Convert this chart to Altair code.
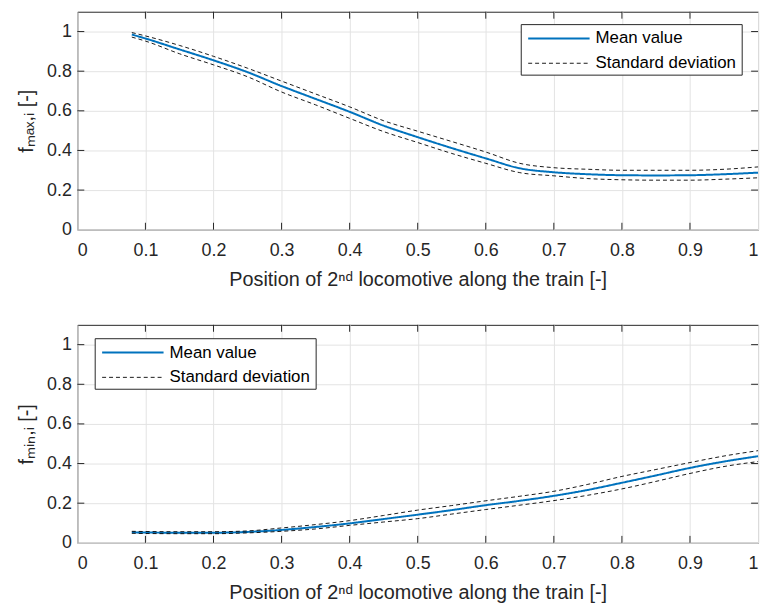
import altair as alt
import pandas as pd

# ---------------- data ----------------
pos = [0.08, 0.10, 0.15, 0.20, 0.25, 0.30, 0.35, 0.40, 0.45, 0.50,
       0.55, 0.60, 0.65, 0.70, 0.75, 0.80, 0.85, 0.90, 0.95, 1.00]

fmax_mean = [0.985, 0.965, 0.910, 0.855, 0.795, 0.725, 0.660, 0.595, 0.525, 0.467,
             0.412, 0.360, 0.310, 0.290, 0.280, 0.275, 0.274, 0.275, 0.280, 0.288]
fmax_up = [0.995, 0.978, 0.930, 0.875, 0.815, 0.750, 0.685, 0.620, 0.550, 0.497,
           0.445, 0.392, 0.335, 0.313, 0.305, 0.300, 0.300, 0.300, 0.305, 0.317]
fmax_lo = [0.972, 0.952, 0.888, 0.832, 0.772, 0.695, 0.630, 0.562, 0.495, 0.440,
           0.385, 0.335, 0.288, 0.272, 0.258, 0.252, 0.250, 0.250, 0.255, 0.262]

fmin_mean = [0.053, 0.052, 0.051, 0.051, 0.055, 0.065, 0.080, 0.098, 0.120, 0.142,
             0.165, 0.190, 0.212, 0.237, 0.267, 0.303, 0.340, 0.378, 0.410, 0.437]
fmin_up = [0.058, 0.057, 0.056, 0.056, 0.060, 0.075, 0.092, 0.112, 0.138, 0.165,
           0.188, 0.212, 0.235, 0.260, 0.295, 0.335, 0.370, 0.405, 0.438, 0.465]
fmin_lo = [0.048, 0.047, 0.046, 0.046, 0.050, 0.058, 0.070, 0.088, 0.105, 0.122,
           0.145, 0.168, 0.190, 0.213, 0.240, 0.272, 0.310, 0.350, 0.385, 0.410]

x_ticks = [0, 0.1, 0.2, 0.3, 0.4, 0.5, 0.6, 0.7, 0.8, 0.9, 1]
y_ticks = [0, 0.2, 0.4, 0.6, 0.8, 1]

X_TITLE = "Position of 2ⁿᵈ locomotive along the train [-]"
KEYS = ["Mean value", "Standard deviation"]

AX = "#262626"
BLUE = "#0072BD"
FONT = "Liberation Sans"
W, H = 687, 220
TL = 7  # inward tick length


def frame(mean, up, lo):
    rows = []
    for name, vals, key in (("mean", mean, KEYS[0]), ("up", up, KEYS[1]), ("lo", lo, KEYS[1])):
        for xv, yv in zip(pos, vals):
            rows.append({"x": xv, "y": yv, "line": name, "key": key})
    return pd.DataFrame(rows)


def legend_layers(bx, by, bw, bh):
    one = pd.DataFrame({"key": KEYS})
    box = alt.Chart(one.head(1)).mark_rect(fill="white", stroke=AX, strokeWidth=1).encode(
        x=alt.value(bx), x2=alt.value(bx + bw), y=alt.value(by), y2=alt.value(by + bh))
    r1y, r2y = by + 14, by + 39
    s1 = alt.Chart(one.head(1)).mark_rule(color=BLUE, strokeWidth=2).encode(
        x=alt.value(bx + 7), x2=alt.value(bx + 69), y=alt.value(r1y))
    s2 = alt.Chart(one.tail(1)).mark_rule(color="black", strokeWidth=0.9, strokeDash=[4, 3]).encode(
        x=alt.value(bx + 7), x2=alt.value(bx + 69), y=alt.value(r2y))
    t1 = alt.Chart(one.head(1)).mark_text(align="left", baseline="middle", font=FONT,
                                          fontSize=17, color="black").encode(
        x=alt.value(bx + 75), y=alt.value(r1y), text="key:N")
    t2 = alt.Chart(one.tail(1)).mark_text(align="left", baseline="middle", font=FONT,
                                          fontSize=17, color="black").encode(
        x=alt.value(bx + 75), y=alt.value(r2y), text="key:N")
    return [box, s1, s2, t1, t2]


def tick_layers(xs, ys):
    xt = pd.DataFrame({"x": x_ticks[1:-1]})
    yt = pd.DataFrame({"y": y_ticks[1:]})
    out = []
    for y1, y2 in ((0, TL), (H - TL, H)):
        out.append(alt.Chart(xt).mark_rule(color=AX, strokeWidth=1).encode(
            x=alt.X("x:Q", scale=xs), y=alt.value(y1), y2=alt.value(y2)))
    for x1, x2 in ((0, TL), (W - TL, W)):
        out.append(alt.Chart(yt).mark_rule(color=AX, strokeWidth=1).encode(
            y=alt.Y("y:Q", scale=ys), x=alt.value(x1), x2=alt.value(x2)))
    return out


def panel(mean, up, lo, ytitle, lx, ly):
    df = frame(mean, up, lo)
    xs = alt.Scale(domain=[0, 1], nice=False)
    ys = alt.Scale(domain=[0, 1.1], nice=False)
    lines = alt.Chart(df).mark_line(interpolate="monotone").encode(
        x=alt.X("x:Q", scale=xs, axis=alt.Axis(
            values=x_ticks, title=X_TITLE, grid=True, domain=False, ticks=False,
            labelPadding=12, titlePadding=10, format="~g")),
        y=alt.Y("y:Q", scale=ys, axis=alt.Axis(
            values=y_ticks, title=ytitle, grid=True, domain=False, ticks=False,
            labelPadding=6, titlePadding=10, minExtent=31, maxExtent=31, format="~g")),
        color=alt.Color("key:N", scale=alt.Scale(domain=KEYS, range=[BLUE, "#000000"]),
                        legend=None),
        strokeDash=alt.StrokeDash("key:N", scale=alt.Scale(domain=KEYS, range=[[1, 0], [4, 3]]),
                                  legend=None),
        strokeWidth=alt.StrokeWidth("key:N", scale=alt.Scale(domain=KEYS, range=[2, 0.9]),
                                    legend=None),
        detail="line:N",
    )
    return alt.layer(lines, *tick_layers(xs, ys), *legend_layers(lx, ly, 223, 51)).properties(
        width=W, height=H)


top = panel(fmax_mean, fmax_up, fmax_lo, "fₘₐₓ,ᵢ [-]", 448, 13)
bottom = panel(fmin_mean, fmin_up, fmin_lo, "fₘᵢₙ,ᵢ [-]", 18, 14)

chart = alt.vconcat(top, bottom, spacing=34).resolve_scale(
    color="independent", strokeDash="independent", strokeWidth="independent"
).properties(
    padding={"left": 8, "top": 0, "right": 0, "bottom": 0}, background="white"
).configure_view(
    stroke=AX, strokeWidth=1
).configure_axis(
    gridColor="#e3e3e3", gridWidth=1, labelFont=FONT, titleFont=FONT,
    labelFontSize=18, titleFontSize=20, labelColor=AX, titleColor=AX,
    titleFontWeight="normal",
)

chart.save("out.html", embed_options={"renderer": "svg", "actions": False})
